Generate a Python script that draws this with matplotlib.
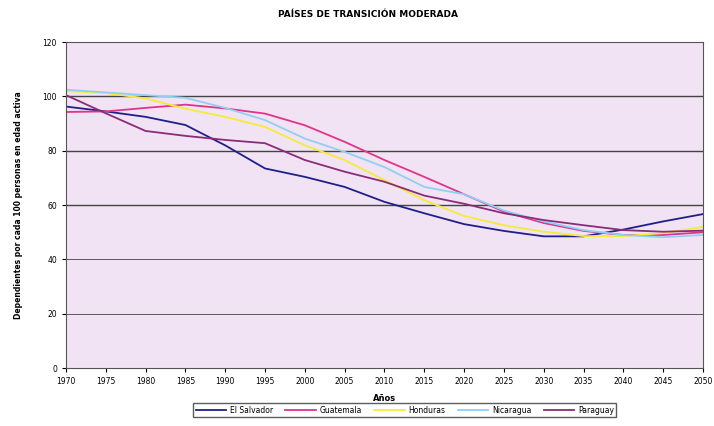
import matplotlib.pyplot as plt
import numpy as np

years = list(range(1970, 2051, 5))
el_salvador = [96.3, 94.5, 92.5, 89.5, 82, 73.5, 70.4, 66.7, 61.2, 57, 53, 50.5, 48.5, 48.5, 51, 54, 56.7]
guatemala = [94.3, 94.5, 95.8, 97, 95.6, 93.7, 89.4, 83.3, 76.6, 70.4, 64, 57.6, 53.4, 50.5, 49, 49, 50]
honduras = [102, 101.3, 99.3, 95.5, 92.5, 88.8, 82, 76.6, 69.2, 61.8, 56, 52.6, 50.2, 48.6, 48.6, 49.7, 52]
nicaragua = [102.5, 101.5, 100.5, 99.5, 95.8, 91.3, 84.5, 79.6, 74, 66.7, 64, 58, 54, 50.8, 49, 48.2, 49]
paraguay = [100.5, 93.8, 87.3, 85.5, 84, 82.8, 76.6, 72.3, 68.6, 63.5, 60.5, 57, 54.5, 52.6, 50.8, 50.2, 50.6]

series = [
    ("El Salvador", el_salvador, "#1f1f8a"),
    ("Guatemala", guatemala, "#e0348a"),
    ("Honduras", honduras, "#f2ec3a"),
    ("Nicaragua", nicaragua, "#8fd0f2"),
    ("Paraguay", paraguay, "#8a2c78"),
]

fig = plt.figure(figsize=(7.14, 4.26), dpi=100)
ax = fig.add_axes([0.0924, 0.136, 0.8922, 0.765])
ax.set_facecolor("#f1e3f3")

for name, vals, col in series:
    ax.plot(years, vals, color=col, lw=1.3, label=name)

ax.set_xlim(1970, 2050)
ax.set_ylim(0, 120)
ax.set_xticks(years)
ax.set_yticks(range(0, 121, 20))
ax.tick_params(labelsize=5.5, length=3)
for y in range(20, 101, 20):
    ax.axhline(y, color="#444444", lw=1.0 if y >= 60 else 0.6, zorder=0)
for s in ax.spines.values():
    s.set_color("#555555")

fig.text(0.515, 0.965, "PAÍSES DE TRANSICIÓN MODERADA", ha="center", va="center",
         fontsize=6.5, fontweight="bold")
ax.set_xlabel("Años", fontsize=6, fontweight="bold", labelpad=6)
ax.set_ylabel("Dependientes por cada 100 personas en edad activa", fontsize=5.5,
              fontweight="bold", labelpad=14)

leg = fig.legend(loc="center", bbox_to_anchor=(0.567, 0.037), ncol=5, fontsize=5.5,
                 frameon=True, fancybox=False, edgecolor="#333333",
                 handlelength=4, columnspacing=1.6, handletextpad=0.5, borderpad=0.3)

fig.savefig("out.png", dpi=100)
